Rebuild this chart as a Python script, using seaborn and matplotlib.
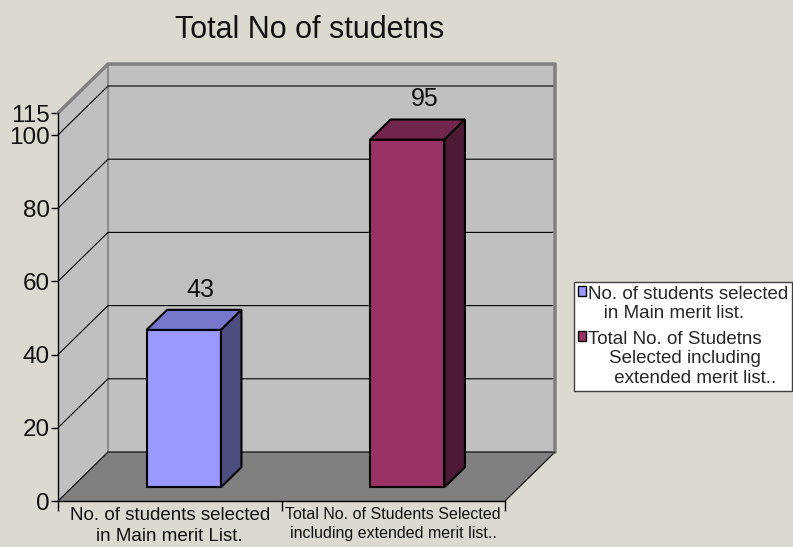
"""
Pseudo 3-D column chart: Total No of students selected
Output: out.png (793 x 547)
"""

import numpy as np
import pandas as pd
import matplotlib
matplotlib.use("Agg")
import matplotlib.pyplot as plt
import matplotlib.transforms as mtransforms
from matplotlib.patches import Polygon
from matplotlib.lines import Line2D
from matplotlib import font_manager
import seaborn as sns

# ── Data ──────────────────────────────────────────────────────
categories = ["No. of students selected\nin Main merit List.",
              "Total No. of Students Selected\nincluding extended merit list.."]
values = [43, 95]
series_labels = ["No. of students selected\n   in Main merit list.",
                 "Total No. of Studetns\n    Selected including\n     extended merit list.."]
front_colors = ["#9999FF", "#993366"]
top_colors = ["#7777CC", "#73264D"]
side_colors = ["#4D4D80", "#4D1A33"]
y_ticks = [0, 20, 40, 60, 80, 100]
y_top = 106
y_top_label = "115"
title = "Total No of studetns"

# ── Style ─────────────────────────────────────────────────────
sns.set_theme(style="white")
plt.rcParams["font.family"] = ["Liberation Sans", "DejaVu Sans"]
installed = {f.name for f in font_manager.fontManager.ttflist}
has_narrow = "Liberation Sans Narrow" in installed
narrow = ["Liberation Sans Narrow", "Liberation Sans"] if has_narrow else ["Liberation Sans"]
xlab_sizes = [16, 13] if has_narrow else [13.5, 11.5]

W, H = 793, 547
fig = plt.figure(figsize=(W / 100, H / 100), dpi=100)
fig.patch.set_facecolor("#DBD9D0")

# front plane of the box (pixels)
x_left, x_right, y_base = 58, 505, 501
px_per_unit = 3.66
ax = fig.add_axes([x_left / W, (H - y_base) / H,
                   (x_right - x_left) / W, y_top * px_per_unit / H])
ax.set_facecolor("none")

df = pd.DataFrame({"cat": categories, "val": values})
sns.barplot(data=df, x="cat", y="val", hue="cat", palette=front_colors,
            width=0.333, edgecolor="black", linewidth=1.5, legend=False,
            saturation=1, ax=ax)
ax.set_xlim(-0.5, len(categories) - 0.5)
ax.set_ylim(0, y_top)
ax.set_xlabel("")
ax.set_ylabel("")
ax.set_autoscale_on(False)

# depth direction of the box, pixels
DX, DY = 50, 49
ident = mtransforms.IdentityTransform()


def to_px(xyd):
    xyd = np.asarray(xyd, float)
    return ax.transData.transform(xyd[:, :2]) + np.outer(xyd[:, 2], [DX, DY])


def face(xyd, fc, z, ec="none", lw=0):
    poly = Polygon(to_px(xyd), closed=True, transform=ident, clip_on=False,
                   facecolor=fc, edgecolor=ec, linewidth=lw, zorder=z)
    ax.add_patch(poly)


def edge(xyd, color, lw, z):
    p = to_px(xyd)
    ax.add_line(Line2D(p[:, 0], p[:, 1], transform=ident, clip_on=False,
                       color=color, linewidth=lw, zorder=z))


xl, xr = ax.get_xlim()
yt = y_top

# ── Walls and floor ──────────────────────────────────────────
face([(xl, 0, 0), (xl, yt, 0), (xl, yt, 1), (xl, 0, 1)], "#C0C0C0", 0.1)
face([(xl, 0, 1), (xr, 0, 1), (xr, yt, 1), (xl, yt, 1)], "#C0C0C0", 0.1)
face([(xl, 0, 0), (xr, 0, 0), (xr, 0, 1), (xl, 0, 1)], "#808080", 0.2)

for v in y_ticks:
    edge([(xl, v, 0), (xl, v, 1), (xr, v, 1)], "black", 0.8, 0.5)

edge([(xl, yt, 0), (xl, yt, 1), (xr, yt, 1), (xr, 0, 1)], "#808080", 2.5, 0.6)
edge([(xl, 0, 1), (xl, yt, 1)], "#8C8C8C", 1.5, 0.4)
edge([(xr, 0, 0), (xr, 0, 1)], "black", 0.8, 0.6)

# ── 3-D bars ─────────────────────────────────────────────────
d0, d1 = 0.28, 0.69
shift = mtransforms.Affine2D().translate(d0 * DX, d0 * DY)
for patch, tc, sc in zip(ax.patches[:len(values)], top_colors, side_colors):
    bx0, bw, h = patch.get_x(), patch.get_width(), patch.get_height()
    bx1 = bx0 + bw
    patch.set_transform(ax.transData + shift)
    patch.set_zorder(1.5)
    face([(bx0, h, d0), (bx1, h, d0), (bx1, h, d1), (bx0, h, d1)], tc, 1.5,
         ec="black", lw=1.5)
    face([(bx1, 0, d0), (bx1, h, d0), (bx1, h, d1), (bx1, 0, d1)], sc, 1.5,
         ec="black", lw=1.5)
    ax.annotate(f"{h:.0f}", xy=(bx0 + bw / 2, h),
                xytext=(d1 * DX - 3.5, d1 * DY + 13), textcoords="offset pixels",
                ha="center", va="baseline", fontsize=18, color="#111111")

# ── Axes ─────────────────────────────────────────────────────
ax.spines["top"].set_visible(False)
ax.spines["right"].set_visible(False)
for s in ["left", "bottom"]:
    ax.spines[s].set_color("black")
    ax.spines[s].set_linewidth(1)
    ax.spines[s].set_zorder(2.5)

ax.set_yticks(y_ticks + [y_top], labels=[str(v) for v in y_ticks] + [y_top_label])
ax.tick_params(axis="y", left=True, length=5, width=1, color="black",
               pad=1, labelsize=17.5, labelcolor="#111111")
ax.set_xticks(range(len(categories)), labels=categories)
ax.set_xticks(np.arange(-0.5, len(categories)), minor=True)
ax.tick_params(axis="x", which="major", bottom=True, length=0, pad=4.5,
               labelcolor="#111111")
ax.tick_params(axis="x", which="minor", bottom=True, length=7, width=1,
               color="black")
for lab, size in zip(ax.get_xticklabels(), xlab_sizes):
    lab.set_fontsize(size)
    lab.set_family(narrow)
    lab.set_linespacing(1.3)

# ── Legend ───────────────────────────────────────────────────
leg = ax.legend(handles=ax.patches[:len(values)], labels=series_labels,
                loc="upper left", bbox_to_anchor=(574 / W, 1 - 282 / H),
                bbox_transform=fig.transFigure, borderaxespad=0,
                fontsize=13.5, handlelength=0.45, handleheight=0.45,
                handletextpad=0.08, labelspacing=0.45, borderpad=0.2,
                frameon=True, fancybox=False, framealpha=1,
                facecolor="white", edgecolor="#404040")
leg.get_frame().set_linewidth(1)
for handle in leg.legend_handles:
    handle.set_linewidth(1)
# square marker level with the first line of each entry
for column in leg._legend_handle_box.get_children():
    for item in column.get_children():
        item.align = "top"

fig.text(310 / W, 1 - 38 / H, title, ha="center", va="baseline",
         fontsize=22, color="#111111")

fig.savefig("out.png", dpi=100, facecolor=fig.get_facecolor())
plt.close(fig)
